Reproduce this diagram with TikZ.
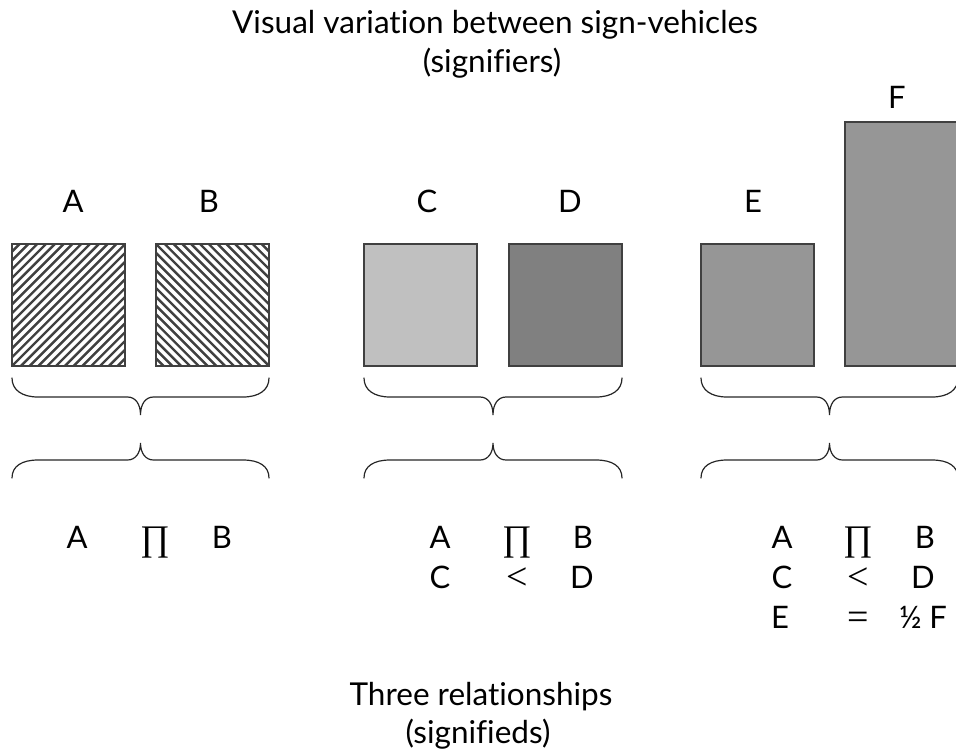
\documentclass[tikz,border=0pt]{standalone}
\usepackage{fontspec}
\setmainfont{Lato}[Ligatures=NoCommon]
\newfontfamily\symserif{Liberation Serif}
\usetikzlibrary{calc}

\definecolor{edge}{HTML}{404040}
\definecolor{lightfill}{HTML}{C0C0C0}
\definecolor{darkfill}{HTML}{808080}
\definecolor{midfill}{HTML}{969696}

% curly brace opening downwards: left x, right x, y of the ends
\newcommand{\bracedown}[3]{%
  \pgfmathsetmacro{\bmid}{(#1+#2)/2}%
  \draw[bracestroke] (#1,#3) .. controls (#1,#3+12) and (#1+10,#3+19) .. (#1+26,#3+19)
    -- (\bmid-13,#3+19) .. controls (\bmid-5,#3+19) and (\bmid,#3+26) .. (\bmid,#3+37)
    .. controls (\bmid,#3+26) and (\bmid+5,#3+19) .. (\bmid+13,#3+19)
    -- (#2-26,#3+19) .. controls (#2-10,#3+19) and (#2,#3+12) .. (#2,#3);}
% curly brace opening upwards: left x, right x, y of the ends
\newcommand{\braceup}[3]{%
  \pgfmathsetmacro{\bmid}{(#1+#2)/2}%
  \draw[bracestroke] (#1,#3) .. controls (#1,#3-12) and (#1+10,#3-18) .. (#1+26,#3-18)
    -- (\bmid-13,#3-18) .. controls (\bmid-5,#3-18) and (\bmid,#3-25) .. (\bmid,#3-35)
    .. controls (\bmid,#3-25) and (\bmid+5,#3-18) .. (\bmid+13,#3-18)
    -- (#2-26,#3-18) .. controls (#2-10,#3-18) and (#2,#3-12) .. (#2,#3);}

\begin{document}
\begin{tikzpicture}[x=1pt,y=-1pt,
  box/.style={draw=edge, line width=1.1pt, anchor=north west,
    minimum width=113pt, minimum height=122pt, inner sep=0pt, outer sep=0pt},
  hatchline/.style={line width=2.4pt, black!75},
  hatchNE/.style={path picture={%
    \foreach \k in {-16,...,14}{%
      \draw[hatchline] ($(path picture bounding box.south west)+({\k*8.8pt},0pt)$) -- ++(150pt,150pt);}}},
  hatchNW/.style={path picture={%
    \foreach \k in {-16,...,14}{%
      \draw[hatchline] ($(path picture bounding box.north west)+({\k*8.8pt},0pt)$) -- ++(150pt,-150pt);}}},
  bracestroke/.style={line width=1.2pt, black!85, line cap=round},
  lab/.style={anchor=base, inner sep=0pt, font=\fontsize{31}{36}\selectfont},
  caption/.style={anchor=base, inner sep=0pt, font=\fontsize{31.5}{36}\selectfont},
  rel/.style={anchor=base, inner sep=0pt, font=\fontsize{31}{36}\selectfont},
  op/.style={anchor=base, inner sep=0pt, font=\symserif\fontsize{38}{44}\selectfont},
  bigpi/.style={anchor=base, inner sep=0pt, font=\symserif\fontsize{36}{44}\selectfont}]

\useasboundingbox (0,0) rectangle (956,753);

% headings
\node[caption] (top1) at (495,33) {Visual variation between sign-vehicles};
\node[caption] (top2) at (492,72) {(signifiers)};
\node[caption] (bot1) at (481,705) {Three relationships};
\node[caption] (bot2) at (478,743) {(signifieds)};

% sign-vehicles
\node[box, hatchNE] (boxA) at (12,244) {};
\node[box, hatchNW] (boxB) at (156,244) {};
\node[box, fill=lightfill] (boxC) at (364,244) {};
\node[box, fill=darkfill] (boxD) at (509,244) {};
\node[box, fill=midfill] (boxE) at (701,244) {};
\node[box, fill=midfill, minimum height=244pt] (boxF) at (845,122) {};

\node[lab] (labA) at (73,212) {A};
\node[lab] (labB) at (209,212) {B};
\node[lab] (labC) at (427,212) {C};
\node[lab] (labD) at (570,212) {D};
\node[lab] (labE) at (753,212) {E};
\node[lab] (labF) at (897,108) {F};

% braces
\bracedown{12}{269}{378}
\braceup{12}{269}{478}
\bracedown{364}{622}{378}
\braceup{364}{622}{478}
\bracedown{701}{958}{378}
\braceup{701}{958}{478}

% relationships, first group
\node[rel] (g1a) at (77,548) {A};
\node[bigpi] (g1p) at (155,550) {∏};
\node[rel] (g1b) at (222,548) {B};

% second group
\node[rel] (g2a) at (440,548) {A};
\node[bigpi] (g2p) at (517,550) {∏};
\node[rel] (g2b) at (583,548) {B};
\node[rel] (g2c) at (440,588) {C};
\node[op] (g2l) at (517,589) {<};
\node[rel] (g2d) at (582,588) {D};

% third group
\node[rel] (g3a) at (782,548) {A};
\node[bigpi] (g3p) at (858,550) {∏};
\node[rel] (g3b) at (925,548) {B};
\node[rel] (g3c) at (782,588) {C};
\node[op] (g3l) at (858,589) {<};
\node[rel] (g3d) at (923,588) {D};
\node[rel] (g3e) at (780,628) {E};
\node[op] (g3q) at (858,629) {=};
\node[rel] (g3f) at (923,628) {½ F};

\end{tikzpicture}
\end{document}
